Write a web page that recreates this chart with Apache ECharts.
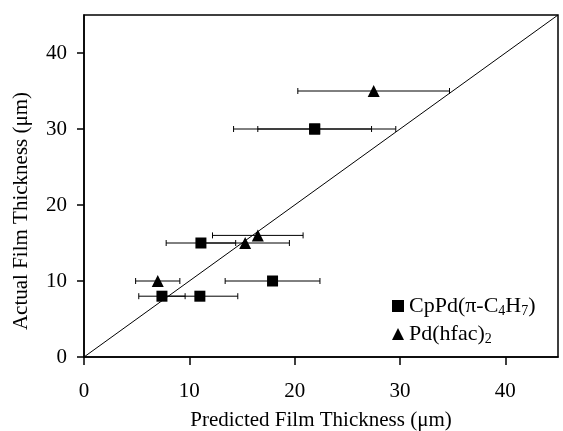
<!DOCTYPE html>
<html>
<head>
<meta charset="utf-8">
<script src="https://cdn.jsdelivr.net/npm/echarts@6/dist/echarts.min.js"></script>
<style>
  html, body { margin: 0; padding: 0; background: #fff; }
  #main { width: 563px; height: 431px; }
</style>
</head>
<body>
<div id="main"></div>
<script>
// CpPd(pi-C4H7) points: predicted, actual, +/- error on predicted
var cpPredicted = [7.4, 11.0, 17.9, 11.1, 21.9, 21.9];
var cpActual    = [8,   8,    10,   15,   30,   30];
var cpError     = [2.2, 3.6,  4.5,  3.3,  7.7,  5.4];

// Pd(hfac)2 points
var hfPredicted = [7.0, 15.3, 16.5, 27.5];
var hfActual    = [10,  15,   16,   35];
var hfError     = [2.1, 4.2,  4.3,  7.2];

var axisTicks = [0, 10, 20, 30, 40];
var axisMax = 45;
var parityLine = [[0, 0], [45, 45]];

var serif = '"Liberation Serif", "Times New Roman", serif';

function toPoints(xs, ys, es) {
    var out = [];
    for (var i = 0; i < xs.length; i++) {
        out.push([xs[i], ys[i], es[i]]);
    }
    return out;
}

function errorBar(params, api) {
    var x = api.value(0), y = api.value(1), e = api.value(2);
    var a = api.coord([x - e, y]);
    var b = api.coord([x + e, y]);
    var cap = 3;
    var st = { stroke: '#000', lineWidth: 1 };
    return {
        type: 'group',
        children: [
            { type: 'line', shape: { x1: a[0], y1: a[1], x2: b[0], y2: b[1] }, style: st },
            { type: 'line', shape: { x1: a[0], y1: a[1] - cap, x2: a[0], y2: a[1] + cap }, style: st },
            { type: 'line', shape: { x1: b[0], y1: b[1] - cap, x2: b[0], y2: b[1] + cap }, style: st }
        ]
    };
}

var cpData = toPoints(cpPredicted, cpActual, cpError);
var hfData = toPoints(hfPredicted, hfActual, hfError);

var myChart = echarts.init(document.getElementById('main'));

var option = {
    animation: false,
    backgroundColor: '#fff',
    textStyle: { fontFamily: serif, color: '#000' },
    grid: {
        left: 84, top: 15, right: 5, bottom: 74,
        outerBoundsMode: 'none',
        show: true, borderColor: '#000', borderWidth: 1.5
    },
    legend: {
        orient: 'vertical',
        left: 387, top: 290,
        itemWidth: 12, itemHeight: 12, itemGap: 5,
        data: ['cp', 'hf'],
        formatter: function (name) {
            if (name === 'cp') return '{a|CpPd(π-C}{s|4}{a|H}{s|7}{a|)}';
            return '{a|Pd(hfac)}{s|2}';
        },
        textStyle: {
            fontFamily: serif, color: '#000',
            rich: {
                a: { fontFamily: serif, fontSize: 22, lineHeight: 24, color: '#000' },
                s: { fontFamily: serif, fontSize: 14, lineHeight: 12, verticalAlign: 'bottom', color: '#000' }
            }
        }
    },
    xAxis: {
        type: 'value', min: 0, max: axisMax, interval: 10,
        name: 'Predicted Film Thickness (μm)',
        nameLocation: 'middle', nameGap: 53,
        nameTextStyle: { fontFamily: serif, fontSize: 21, color: '#000' },
        axisLine: { lineStyle: { color: '#000', width: 1.5 } },
        axisTick: { length: 8, customValues: axisTicks, lineStyle: { color: '#000', width: 1.5 } },
        axisLabel: { fontFamily: serif, fontSize: 21, color: '#000', margin: 24, customValues: axisTicks },
        splitLine: { show: false }
    },
    yAxis: {
        type: 'value', min: 0, max: axisMax, interval: 10,
        name: 'Actual Film Thickness (μm)',
        nameLocation: 'middle', nameGap: 52,
        nameTextStyle: { fontFamily: serif, fontSize: 21, color: '#000', padding: [0, 50, 0, 0] },
        axisLine: { lineStyle: { color: '#000', width: 1.5 } },
        axisTick: { length: 7, customValues: axisTicks, lineStyle: { color: '#000', width: 1.5 } },
        axisLabel: { fontFamily: serif, fontSize: 21, color: '#000', margin: 17, customValues: axisTicks },
        splitLine: { show: false }
    },
    series: [
        {
            type: 'line', data: parityLine, symbol: 'none', silent: true,
            lineStyle: { color: '#000', width: 1 }, z: 1
        },
        { type: 'custom', renderItem: errorBar, data: cpData, encode: { x: 0, y: 1 }, z: 2, silent: true },
        { type: 'custom', renderItem: errorBar, data: hfData, encode: { x: 0, y: 1 }, z: 2, silent: true },
        {
            name: 'cp', type: 'scatter', symbol: 'rect', symbolSize: 11,
            data: cpData, itemStyle: { color: '#000', opacity: 1 }, z: 3
        },
        {
            name: 'hf', type: 'scatter', symbol: 'triangle', symbolSize: 12,
            data: hfData, itemStyle: { color: '#000', opacity: 1 }, z: 3
        }
    ]
};

myChart.setOption(option);
</script>
</body>
</html>
